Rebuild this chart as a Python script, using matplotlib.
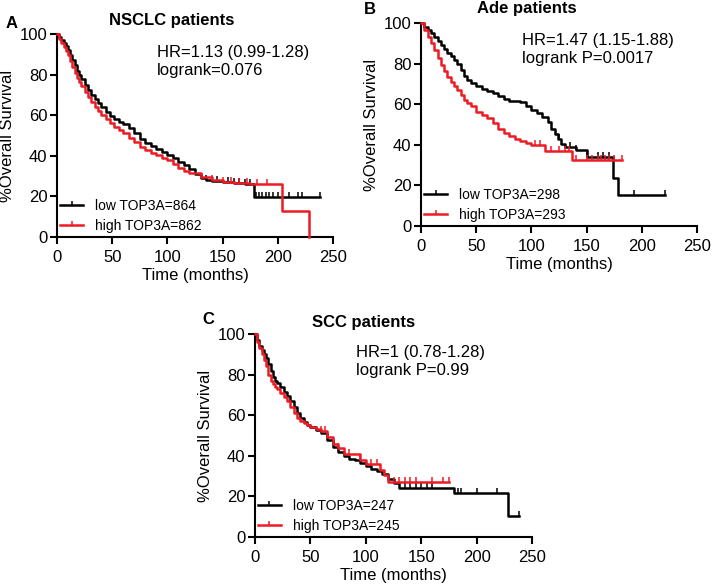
import numpy as np
import matplotlib
matplotlib.use("Agg")
import matplotlib.pyplot as plt
from matplotlib.lines import Line2D

plt.rcParams['font.family'] = ['Liberation Sans', 'DejaVu Sans']

# ---- data (months, % survival) ----
# panel A - NSCLC
a_low_t = [0, 2, 4, 6, 8, 10, 12, 14, 16, 18, 20, 22, 25, 28, 31, 34, 37, 40, 44, 48, 52, 56, 60, 65,
           70, 75, 80, 85, 90, 95, 100, 105, 110, 115, 120, 125, 130, 135, 140, 150, 160, 170, 178, 238]
a_low_s = [100, 98.5, 97, 95.5, 94, 92, 89.5, 87, 84.5, 82, 80, 78, 75, 72.5, 70, 68, 66, 64, 61.5, 59.5,
           58, 56.5, 55.5, 53.5, 51, 48.5, 46.5, 45, 43.5, 42, 40.5, 39, 37, 35.5, 33.5, 31, 29, 28, 27.5,
           27, 26.5, 26, 19.5, 19.5]
a_low_cens = [135, 145, 155, 160, 165, 170, 175, 180, 183, 186, 189, 192, 196, 200, 210, 218, 222, 238]
a_high_t = [0, 2, 4, 6, 8, 10, 12, 14, 16, 18, 20, 22, 25, 28, 31, 34, 37, 40, 44, 48, 52, 56, 60, 65,
            70, 75, 80, 85, 90, 95, 100, 105, 110, 115, 120, 130, 140, 150, 160, 175, 204, 228]
a_high_s = [100, 97.5, 95.5, 93.5, 91.5, 89.5, 86.5, 83.5, 81, 78.5, 76.5, 74.5, 71.5, 69, 66.5, 64, 62,
            60, 58, 56, 54, 52.5, 51, 49, 47, 44.5, 43, 41.5, 40.5, 39, 38, 36, 34, 32.5, 31.5, 29.5, 28,
            27, 26.8, 26.3, 12.8, 0]
a_high_cens = [140, 150, 158, 165, 172, 181, 190]

# panel B - Ade
b_low_t = [0, 3, 6, 9, 12, 15, 18, 21, 24, 27, 30, 33, 36, 39, 42, 45, 50, 55, 60, 65, 70, 75, 80, 85,
           90, 95, 100, 105, 110, 115, 118, 121, 124, 127, 130, 140, 150, 174, 178, 221]
b_low_s = [100, 98, 96.5, 95, 93, 91, 89, 87, 85, 83.5, 82, 80, 77, 74, 72, 70.5, 69, 67.5, 66.5, 65.5,
           64, 62.5, 61.5, 61.5, 61, 59, 57, 55.5, 53.5, 51, 48, 45.5, 43, 40.5, 39, 37.5, 34, 23.5,
           15.5, 15.5]
b_low_cens = [125, 135, 140, 150, 160, 165, 170, 193, 221]
b_high_t = [0, 3, 6, 9, 12, 15, 18, 21, 24, 27, 30, 33, 36, 39, 42, 45, 50, 55, 60, 65, 70, 75, 80, 85,
            90, 95, 100, 112, 137, 182]
b_high_s = [100, 96.5, 93, 90, 86.5, 83, 79.5, 76.5, 73.5, 71, 69, 67, 64.5, 62, 60.5, 59, 56, 54.5, 53,
            50.5, 48, 46, 44.5, 43, 42, 41, 40, 37, 32.5, 32.5]
b_high_cens = [103, 108, 118, 125, 130, 134, 140, 150, 155, 160, 163, 167, 170, 175, 182]

# panel C - SCC
c_low_t = [0, 2, 4, 6, 8, 10, 12, 14, 16, 18, 20, 23, 26, 29, 32, 35, 38, 41, 44, 47, 50, 55, 60, 65,
           70, 75, 80, 85, 90, 95, 100, 105, 110, 115, 120, 125, 130, 180, 228, 238]
c_low_s = [100, 97, 94, 92, 90, 88, 85, 82, 79, 77, 76, 74, 71.5, 69.5, 67, 64, 61, 58.5, 56.5, 55, 54,
           52.5, 51, 48, 44.5, 42, 40, 38.5, 38, 36.5, 35, 33.5, 32.5, 31, 28.5, 26.5, 24, 21.5, 10.5,
           10.5]
c_low_cens = [135, 140, 145, 150, 155, 160, 183, 186, 200, 218, 238]
c_high_t = [0, 2, 4, 6, 8, 10, 12, 14, 16, 18, 20, 23, 26, 29, 32, 35, 38, 41, 44, 47, 50, 55, 60, 65,
            70, 75, 80, 85, 90, 95, 100, 105, 110, 113, 116, 120, 175]
c_high_s = [100, 96, 93, 90, 87, 84, 80, 77, 75.5, 74, 73, 71, 69, 67, 64, 61, 58.5, 57, 56, 55, 54, 53,
            52, 49.5, 46, 44, 41, 41, 41, 38, 36, 36, 36, 33, 30.5, 27, 27]
c_high_cens = [60, 63, 75, 85, 95, 105, 110, 125, 130, 135, 140, 145, 160, 170, 175]

labels_a = ['low TOP3A=864', 'high TOP3A=862']
labels_b = ['low TOP3A=298', 'high TOP3A=293']
labels_c = ['low TOP3A=247', 'high TOP3A=245']

BLACK = '#000000'
RED = '#ec1c24'
LW = 1.8


def draw_km(ax, t, s, cens, color):
    t = np.asarray(t, float)
    s = np.asarray(s, float)
    ax.step(t, s, where='post', color=color, lw=LW, clip_on=False, zorder=3)
    cens = np.asarray(cens, float)
    idx = np.searchsorted(t, cens, side='right') - 1
    ax.plot(cens, s[idx], ls='none', marker=2, ms=3.5, mew=1.1, color=color, clip_on=False, zorder=3)


def style_axes(ax, labels):
    ax.set_xlim(0, 250)
    ax.set_ylim(0, 100)
    ax.set_xticks(range(0, 251, 50))
    ax.set_yticks(range(0, 101, 20))
    for side in ['top', 'right']:
        ax.spines[side].set_visible(False)
    for side in ['left', 'bottom']:
        ax.spines[side].set_linewidth(1.5)
    ax.tick_params(direction='out', length=5, width=1.5, labelsize=12)
    ax.tick_params(axis='x', pad=4)
    ax.tick_params(axis='y', pad=2)
    ax.set_xlabel('Time (months)', fontsize=12, labelpad=2.5)
    ax.set_ylabel('%Overall Survival', fontsize=12, labelpad=3)
    handles = [Line2D([0], [0], color=BLACK, lw=LW, marker=2, ms=3, mew=1.1),
               Line2D([0], [0], color=RED, lw=LW, marker=2, ms=3, mew=1.1)]
    ax.legend(handles, labels, loc='lower left', bbox_to_anchor=(-0.033, -0.04), frameon=False,
              fontsize=10, handlelength=1.6, handletextpad=0.9, labelspacing=0.4)


fig = plt.figure(figsize=(7.12, 5.87), dpi=100)
W, H = 712, 587


def add_ax(x0, y_top, x1, y_bot):
    return fig.add_axes([x0 / W, 1 - y_bot / H, (x1 - x0) / W, (y_bot - y_top) / H])


axA = add_ax(57, 34, 333, 237)
axB = add_ax(421, 23, 697, 226)
axC = add_ax(255, 334, 532, 537)

draw_km(axA, a_low_t, a_low_s, a_low_cens, BLACK)
draw_km(axA, a_high_t, a_high_s, a_high_cens, RED)
draw_km(axB, b_low_t, b_low_s, b_low_cens, BLACK)
draw_km(axB, b_high_t, b_high_s, b_high_cens, RED)
draw_km(axC, c_low_t, c_low_s, c_low_cens, BLACK)
draw_km(axC, c_high_t, c_high_s, c_high_cens, RED)

style_axes(axA, labels_a)
style_axes(axB, labels_b)
style_axes(axC, labels_c)


def ftext(x, y, s, **kw):
    fig.text(x / W, 1 - y / H, s, **kw)


# panel letters and titles
ftext(12, 23, 'A', fontsize=12, fontweight='bold', ha='center', va='center')
ftext(370, 9, 'B', fontsize=12, fontweight='bold', ha='center', va='center')
ftext(208, 320, 'C', fontsize=12, fontweight='bold', ha='center', va='center')
ftext(172, 21, 'NSCLC patients', fontsize=12, fontweight='bold', ha='center', va='center')
ftext(527, 9, 'Ade patients', fontsize=12, fontweight='bold', ha='center', va='center')
ftext(364, 322, 'SCC patients', fontsize=12, fontweight='bold', ha='center', va='center')

# statistics
ftext(157, 53, 'HR=1.13 (0.99-1.28)', fontsize=12, va='center')
ftext(157, 71, 'logrank=0.076', fontsize=12, va='center')
ftext(522, 40, 'HR=1.47 (1.15-1.88)', fontsize=12, va='center')
ftext(522, 59, 'logrank P=0.0017', fontsize=12, va='center')
ftext(356, 352, 'HR=1 (0.78-1.28)', fontsize=12, va='center')
ftext(356, 370, 'logrank P=0.99', fontsize=12, va='center')

fig.savefig('out.png', dpi=100)
